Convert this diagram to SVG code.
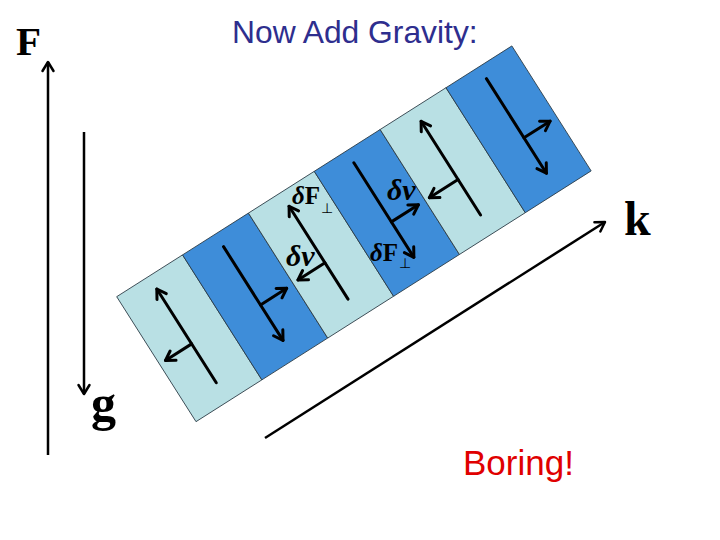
<svg xmlns="http://www.w3.org/2000/svg" width="720" height="540" viewBox="0 0 720 540">
<style>
.light{fill:#B9E0E4;stroke:#2a3a44;stroke-width:0.8}
.dark{fill:#3E8DD9;stroke:#2a3a44;stroke-width:0.8}
.ln{stroke:#000;stroke-width:3;fill:none;stroke-linecap:round}
.ax{stroke:#000;stroke-width:2.5;fill:none}
.sym{font-family:"Liberation Serif","Times New Roman",serif;fill:#000}
.perp{font-family:"DejaVu Sans",sans-serif;font-size:14px;fill:#000}
</style>
<defs>
<marker id="ah" viewBox="0 0 20 20" refX="16" refY="10" markerWidth="20" markerHeight="20" markerUnits="userSpaceOnUse" orient="auto">
<path d="M 7 4.5 L 16 10 L 7 15.5" fill="none" stroke="#000" stroke-width="3" stroke-linecap="round" stroke-linejoin="round"/>
</marker>
<marker id="ah2" viewBox="0 0 20 20" refX="16" refY="10" markerWidth="20" markerHeight="20" markerUnits="userSpaceOnUse" orient="auto">
<path d="M 7 4.5 L 16 10 L 7 15.5" fill="none" stroke="#000" stroke-width="2.5" stroke-linecap="round" stroke-linejoin="round"/>
</marker>
</defs>
<rect width="720" height="540" fill="#fff"/>

<g id="title">
<text x="232" y="43" font-family="Liberation Sans, Arial, sans-serif" font-size="31.8" fill="#2E2E8E">Now Add Gravity:</text>
</g>

<g id="slab" transform="translate(116.7 296.7) rotate(-32.4)">
<rect class="light" x="0" y="0" width="78" height="148"/>
<rect class="dark" x="78" y="0" width="78" height="148"/>
<rect class="light" x="156" y="0" width="78" height="148"/>
<rect class="dark" x="234" y="0" width="78" height="148"/>
<rect class="light" x="312" y="0" width="78" height="148"/>
<rect class="dark" x="390" y="0" width="78" height="148"/>
</g>

<g id="connectors">
<g transform="translate(116.7 296.7) rotate(-32.4)">
<line class="ln" x1="38" y1="126" x2="38" y2="15" marker-end="url(#ah)"/>
<line class="ln" x1="38" y1="80" x2="7" y2="80" marker-end="url(#ah)"/>
<line class="ln" x1="117" y1="15" x2="117" y2="126" marker-end="url(#ah)"/>
<line class="ln" x1="117" y1="84" x2="148" y2="84" marker-end="url(#ah)"/>
<line class="ln" x1="194" y1="126" x2="194" y2="16" marker-end="url(#ah)"/>
<line class="ln" x1="194" y1="83" x2="162" y2="83" marker-end="url(#ah)"/>
<line class="ln" x1="272" y1="14" x2="272" y2="126" marker-end="url(#ah)"/>
<line class="ln" x1="272" y1="84" x2="304" y2="84" marker-end="url(#ah)"/>
<line class="ln" x1="351" y1="126" x2="351" y2="15" marker-end="url(#ah)"/>
<line class="ln" x1="351" y1="84" x2="317" y2="84" marker-end="url(#ah)"/>
<line class="ln" x1="429" y1="14" x2="429" y2="126" marker-end="url(#ah)"/>
<line class="ln" x1="429" y1="84" x2="460" y2="84" marker-end="url(#ah)"/>
</g>
<line class="ax" x1="48" y1="455" x2="48" y2="62" marker-end="url(#ah2)"/>
<line class="ax" x1="84" y1="132" x2="84" y2="394" marker-end="url(#ah2)"/>
<line class="ax" x1="265" y1="438" x2="605" y2="222" marker-end="url(#ah2)"/>
</g>

<g id="labels">
<text class="sym" x="16" y="55" font-size="41" font-weight="bold">F</text>
<text class="sym" x="91" y="420" font-size="50" font-weight="bold">g</text>
<text class="sym" x="624" y="235" font-size="48" font-weight="bold">k</text>
<text class="sym" x="292" y="204" font-size="25" font-weight="bold"><tspan font-style="italic">δ</tspan>F</text>
<text class="perp" x="321" y="213">⊥</text>
<text class="sym" x="286" y="266" font-size="30" font-weight="bold" font-style="italic">δv</text>
<text class="sym" x="387" y="200" font-size="30" font-weight="bold" font-style="italic">δv</text>
<text class="sym" x="370" y="261" font-size="25" font-weight="bold"><tspan font-style="italic">δ</tspan>F</text>
<text class="perp" x="399" y="268">⊥</text>
<text x="463" y="475" font-family="Liberation Sans, Arial, sans-serif" font-size="35" fill="#E00000">Boring!</text>
</g>
</svg>
